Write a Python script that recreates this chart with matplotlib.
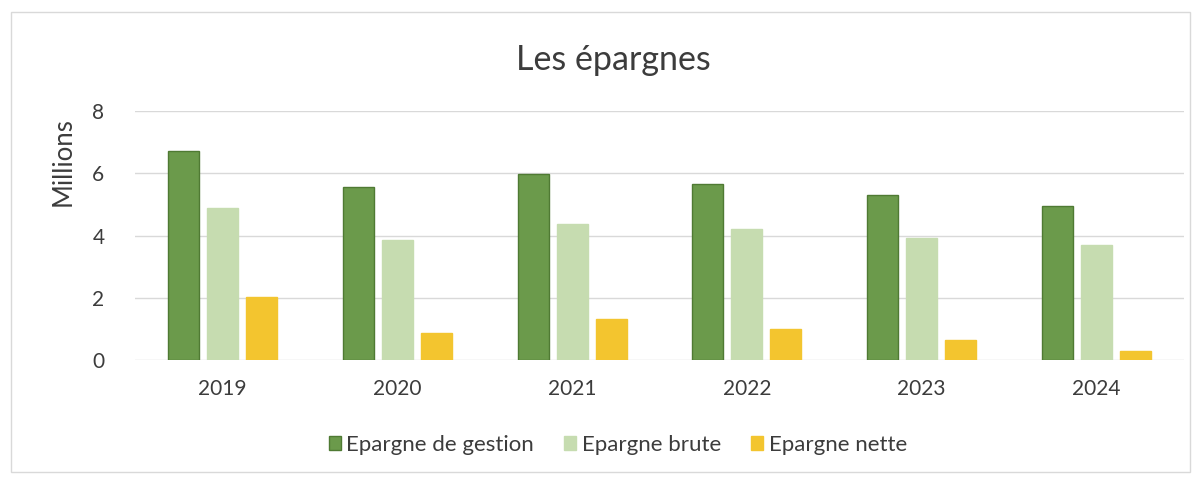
import matplotlib
matplotlib.use('Agg')
import matplotlib.pyplot as plt
from matplotlib.patches import Rectangle
import numpy as np

plt.rcParams['font.family'] = ['Lato', 'DejaVu Sans']

years = ['2019', '2020', '2021', '2022', '2023', '2024']
epargne_gestion = [6.73, 5.57, 5.99, 5.66, 5.30, 4.95]
epargne_brute = [4.89, 3.85, 4.38, 4.20, 3.93, 3.70]
epargne_nette = [2.04, 0.88, 1.33, 1.00, 0.64, 0.30]
series_names = ['Epargne de gestion', 'Epargne brute', 'Epargne nette']

colors = ['#6b9a4b', '#c6dcb0', '#f3c52f']
edges = ['#4f7a33', '#c6dcb0', '#f3c52f']
text_col = '#3c3c3c'

W, H = 1197, 479
fig = plt.figure(figsize=(W / 100, H / 100), dpi=100)
ax = fig.add_axes([135 / W, (H - 360) / H, (1184 - 135) / W, (360 - 111) / H])

x = np.arange(len(years))
offset = 39 / 175
width = 31 / 175
for i, (vals, name) in enumerate(zip([epargne_gestion, epargne_brute, epargne_nette], series_names)):
    ax.bar(x + (i - 1) * offset, vals, width, color=colors[i], edgecolor=edges[i],
           linewidth=1.0, label=name, zorder=3)

ax.set_ylim(0, 8)
ax.set_xlim(-0.5, len(years) - 0.5)
ax.set_yticks([0, 2, 4, 6, 8])
ax.set_xticks(x)
ax.set_xticklabels(years)
ax.grid(axis='y', color='#d9d9d9', linewidth=1.0, zorder=0)
for s in ax.spines.values():
    s.set_visible(False)
ax.tick_params(axis='both', length=0, labelsize=15, colors=text_col)
ax.tick_params(axis='x', pad=14)
ax.tick_params(axis='y', pad=22)

fig.text(613 / W, (H - 60) / H, 'Les épargnes', ha='center', va='center',
         fontsize=24.5, color=text_col)
fig.text(63 / W, (H - 162) / H, 'Millions', ha='center', va='center',
         rotation=90, fontsize=18.5, color=text_col)

leg = fig.legend(loc='center', bbox_to_anchor=(618 / W, (H - 445) / H), ncol=3,
                 frameon=False, fontsize=16, handlelength=0.55, handleheight=0.55,
                 handletextpad=0.25, columnspacing=1.35)
for t in leg.get_texts():
    t.set_color(text_col)

fig.patches.append(Rectangle((11 / W, (H - 472) / H), (1190 - 11) / W, (472 - 12) / H,
                             transform=fig.transFigure, fill=False,
                             edgecolor='#d9d9d9', linewidth=1.0))

fig.savefig('out.png', dpi=100)
